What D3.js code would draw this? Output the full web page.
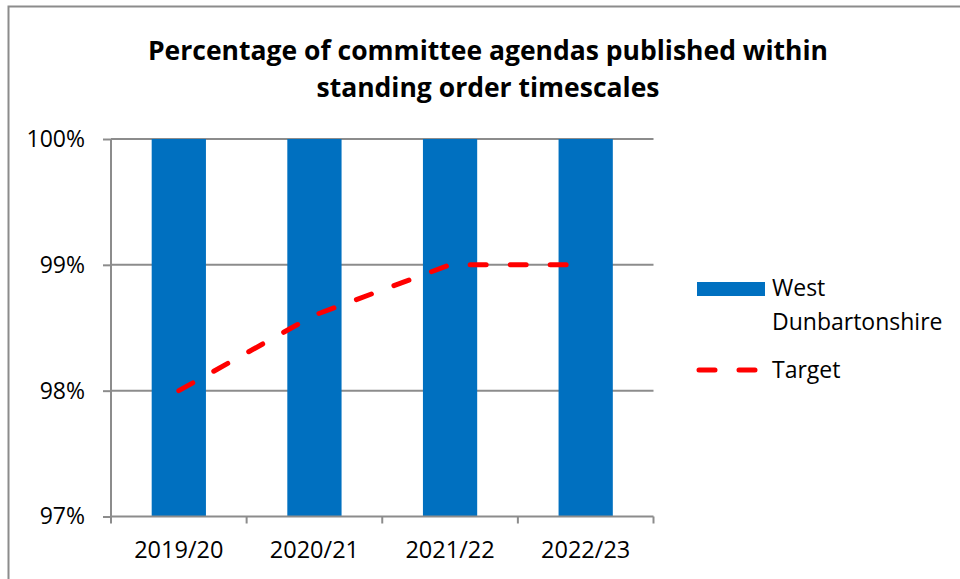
<!DOCTYPE html>
<html>
<head>
<meta charset="utf-8">
<script src="https://cdn.jsdelivr.net/npm/d3@7"></script>
<style>
  body { margin: 0; background: #fff; }
  svg { display: block; font-family: "Open Sans", "Noto Sans", sans-serif; }
</style>
</head>
<body>
<svg id="chart" width="960" height="579"></svg>
<script>
const categories = ["2019/20", "2020/21", "2021/22", "2022/23"];
const westDunbartonshire = [1.00, 1.00, 1.00, 1.00];
const target = [0.980, 0.986, 0.990, 0.990];
const yTicks = [0.97, 0.98, 0.99, 1.00];
const titleLines = ["Percentage of committee agendas published within", "standing order timescales"];

const svg = d3.select("#chart");
const margin = { top: 139, right: 306.5, bottom: 62.5, left: 111 };
const width = 960, height = 579;
const gridColor = "#8c8c8c";
const labelSize = "23px";

// outer chart border (right/bottom run off the picture)
svg.append("rect")
  .attr("x", 8.5).attr("y", 6.5)
  .attr("width", 1000).attr("height", 700)
  .attr("fill", "none")
  .attr("stroke", gridColor)
  .attr("stroke-width", 2);

const x = d3.scaleBand()
  .domain(categories)
  .range([margin.left, width - margin.right])
  .padding(0);

const y = d3.scaleLinear()
  .domain([0.97, 1.00])
  .range([height - margin.bottom, margin.top]);

// title
svg.append("text")
  .attr("text-anchor", "middle")
  .attr("font-weight", "bold")
  .attr("font-size", "26.5px")
  .attr("fill", "#000")
  .selectAll("tspan")
  .data(titleLines)
  .join("tspan")
  .attr("x", 488)
  .attr("y", (d, i) => 60 + i * 37)
  .text(d => d);

// gridlines
svg.append("g")
  .selectAll("line")
  .data(yTicks.filter(t => t > 0.97))
  .join("line")
  .attr("x1", margin.left)
  .attr("x2", width - margin.right)
  .attr("y1", d => y(d))
  .attr("y2", d => y(d))
  .attr("stroke", gridColor)
  .attr("stroke-width", 2);

// bars
svg.append("g")
  .selectAll("rect")
  .data(categories)
  .join("rect")
  .attr("x", d => x(d) + x.bandwidth() * 0.3)
  .attr("width", x.bandwidth() * 0.4)
  .attr("y", (d, i) => y(westDunbartonshire[i]))
  .attr("height", (d, i) => y(0.97) - y(westDunbartonshire[i]))
  .attr("fill", "#0070c0");

// y axis
const yAxis = svg.append("g")
  .attr("transform", `translate(${margin.left},0)`)
  .call(d3.axisLeft(y).tickValues(yTicks).tickFormat(d3.format(".0%")).tickSize(8).tickPadding(18));
yAxis.select(".domain").attr("stroke", gridColor).attr("stroke-width", 2).attr("d", `M0,${y(1)}V${y(0.97)}`);
yAxis.selectAll(".tick line").attr("stroke", gridColor).attr("stroke-width", 2);
yAxis.selectAll(".tick text")
  .attr("font-size", labelSize)
  .attr("font-family", "Open Sans, sans-serif")
  .attr("fill", "#000");

// x axis
const xAxis = svg.append("g")
  .attr("transform", `translate(0,${y(0.97)})`)
  .call(d3.axisBottom(x).tickSize(0).tickPadding(25));
xAxis.select(".domain").attr("stroke", gridColor).attr("stroke-width", 2)
  .attr("d", `M${margin.left},0H${width - margin.right}`);
xAxis.selectAll(".tick text")
  .attr("font-size", "23.5px")
  .attr("font-family", "Open Sans, sans-serif")
  .attr("fill", "#000");
svg.append("g")
  .selectAll("line")
  .data(categories.map(c => x(c)).concat([x.range()[1]]))
  .join("line")
  .attr("x1", d => d).attr("x2", d => d)
  .attr("y1", y(0.97)).attr("y2", y(0.97) + 7)
  .attr("stroke", gridColor)
  .attr("stroke-width", 2);

// target line
const line = d3.line()
  .x((d, i) => x(categories[i]) + x.bandwidth() / 2)
  .y(d => y(d));

svg.append("path")
  .datum(target)
  .attr("d", line)
  .attr("fill", "none")
  .attr("stroke", "#ff0000")
  .attr("stroke-width", 5)
  .attr("stroke-linecap", "round")
  .attr("stroke-dasharray", "16,24");

// legend
const legend = svg.append("g");
legend.append("rect")
  .attr("x", 697).attr("y", 282)
  .attr("width", 68).attr("height", 14)
  .attr("fill", "#0070c0");
legend.append("text")
  .attr("font-size", labelSize)
  .attr("fill", "#000")
  .selectAll("tspan")
  .data(["West", "Dunbartonshire"])
  .join("tspan")
  .attr("x", 772)
  .attr("y", (d, i) => 296 + i * 34)
  .text(d => d);
legend.append("line")
  .attr("x1", 699).attr("x2", 759)
  .attr("y1", 370).attr("y2", 370)
  .attr("stroke", "#ff0000")
  .attr("stroke-width", 5)
  .attr("stroke-linecap", "round")
  .attr("stroke-dasharray", "16,24");
legend.append("text")
  .attr("x", 772).attr("y", 378)
  .attr("font-size", labelSize)
  .attr("fill", "#000")
  .text("Target");
</script>
</body>
</html>
